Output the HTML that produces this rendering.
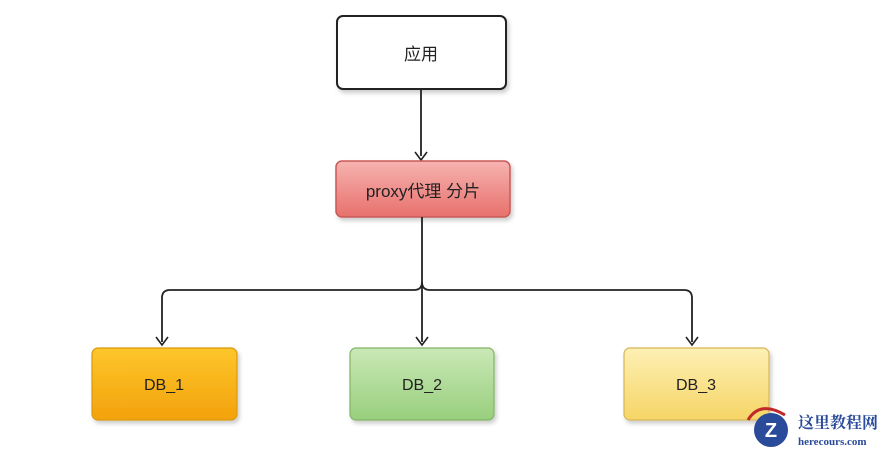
<!DOCTYPE html>
<html><head><meta charset="utf-8"><style>
body{margin:0;background:#fff;width:890px;height:452px;overflow:hidden}
svg{display:block}
text{font-family:"Liberation Sans","Noto Sans CJK SC",sans-serif;}
</style></head><body>
<svg width="890" height="452" viewBox="0 0 890 452" xmlns="http://www.w3.org/2000/svg">
<defs>
<linearGradient id="r" x1="0" y1="0" x2="0" y2="1"><stop offset="0" stop-color="#f6b3b0"/><stop offset="1" stop-color="#e8706c"/></linearGradient>
<linearGradient id="o" x1="0" y1="0" x2="0" y2="1"><stop offset="0" stop-color="#fdc62a"/><stop offset="1" stop-color="#f3a20c"/></linearGradient>
<linearGradient id="g" x1="0" y1="0" x2="0" y2="1"><stop offset="0" stop-color="#c9e8b6"/><stop offset="1" stop-color="#98cf7d"/></linearGradient>
<linearGradient id="y" x1="0" y1="0" x2="0" y2="1"><stop offset="0" stop-color="#fdf0b4"/><stop offset="1" stop-color="#f6d566"/></linearGradient>
<filter id="s" x="-10%" y="-10%" width="130%" height="140%"><feDropShadow dx="2" dy="3" stdDeviation="2" flood-opacity="0.2"/></filter>
</defs>
<rect x="337" y="16" width="169" height="73" rx="6" fill="#fff" stroke="#222" stroke-width="2" filter="url(#s)"/>
<text x="421" y="60" font-size="17" text-anchor="middle" fill="#222">应用</text>
<line x1="421" y1="89" x2="421" y2="156" stroke="#222" stroke-width="1.8"/>
<path d="M415 152 L421 160 L427 152" fill="none" stroke="#222" stroke-width="1.6"/>
<rect x="336" y="161" width="174" height="56" rx="6" fill="url(#r)" stroke="#c85a58" stroke-width="1.5" filter="url(#s)"/>
<text x="423" y="197" font-size="17" text-anchor="middle" fill="#222">proxy代理 分片</text>
<path d="M422 217 L422 282 Q422 290 414 290 L170 290 Q162 290 162 298 L162 342" fill="none" stroke="#222" stroke-width="1.8"/>
<path d="M422 282 Q422 290 430 290 L684 290 Q692 290 692 298 L692 342" fill="none" stroke="#222" stroke-width="1.8"/>
<line x1="422" y1="282" x2="422" y2="342" stroke="#222" stroke-width="1.8"/>
<path d="M156 337 L162 345 L168 337 M416 337 L422 345 L428 337 M686 337 L692 345 L698 337" fill="none" stroke="#222" stroke-width="1.6"/>
<rect x="92" y="348" width="145" height="72" rx="6" fill="url(#o)" stroke="#d89a10" stroke-width="1.2" filter="url(#s)"/>
<text x="164" y="390" font-size="16" text-anchor="middle" fill="#222">DB_1</text>
<rect x="350" y="348" width="144" height="72" rx="6" fill="url(#g)" stroke="#82b366" stroke-width="1.2" filter="url(#s)"/>
<text x="422" y="390" font-size="16" text-anchor="middle" fill="#222">DB_2</text>
<rect x="624" y="348" width="145" height="72" rx="6" fill="url(#y)" stroke="#d6b656" stroke-width="1.2" filter="url(#s)"/>
<text x="696" y="390" font-size="16" text-anchor="middle" fill="#222">DB_3</text>
<circle cx="771" cy="430" r="17" fill="#2a4a9a"/>
<path d="M748 420 Q760 400 785 415" fill="none" stroke="#c0282a" stroke-width="3"/>
<text x="771" y="437" font-size="20" font-weight="bold" text-anchor="middle" fill="#fff">Z</text>
<text x="798" y="428" font-size="16" font-weight="bold" fill="#2a4a9a" style="font-family:'Noto Serif CJK SC',serif">这里教程网</text>
<text x="798" y="445" font-size="11" font-weight="bold" fill="#2a4a9a" style="font-family:'Liberation Serif',serif">herecours.com</text>
</svg>
</body></html>
